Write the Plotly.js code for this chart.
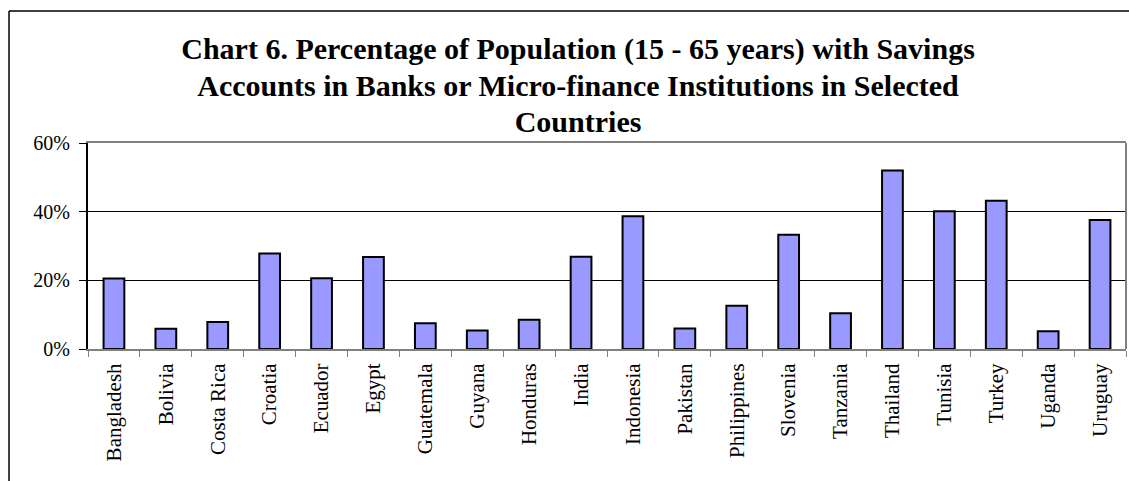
<!DOCTYPE html>
<html>
<head>
<meta charset="utf-8">
<script src="https://cdn.plot.ly/plotly-3.0.1.min.js"></script>
<style>html,body{margin:0;padding:0;background:#fff;}#chart{width:1129px;height:481px;}</style>
</head>
<body>
<div id="chart"></div>
<script>
const countries = ["Bangladesh","Bolivia","Costa Rica","Croatia","Ecuador","Egypt","Guatemala","Guyana","Honduras","India","Indonesia","Pakistan","Philippines","Slovenia","Tanzania","Thailand","Tunisia","Turkey","Uganda","Uruguay"];
const savingsShare = [0.205,0.059,0.079,0.278,0.206,0.268,0.075,0.054,0.085,0.269,0.387,0.060,0.126,0.333,0.104,0.520,0.401,0.432,0.052,0.376];
const yTickVals = [0,0.2,0.4,0.6];
const yTickText = ["0%","20%","40%","60%"];
const titleLines = [
  "Chart 6. Percentage of Population (15 - 65 years) with Savings",
  "Accounts in Banks or Micro-finance Institutions in Selected",
  "Countries"
];

const serif = "Liberation Serif, Times New Roman, serif";

const data = [{
  type: "bar",
  x: countries,
  y: savingsShare,
  marker: {color: "#9999FF", line: {color: "#000000", width: 2}},
  hoverinfo: "x+y"
}];

const layout = {
  width: 1129,
  height: 481,
  margin: {l: 88, r: 3, t: 143, b: 132, pad: 0},
  paper_bgcolor: "#ffffff",
  plot_bgcolor: "#ffffff",
  showlegend: false,
  bargap: 0.6,
  title: {
    text: titleLines.map(s => '<span style="font-size:30px">' + s + '</span>').join("<br>"),
    font: {family: serif, size: 28, color: "#000000", weight: "bold"},
    xref: "container", x: 0.512, xanchor: "center",
    yref: "container", y: 0.877, yanchor: "top"
  },
  xaxis: {
    type: "category",
    tickson: "boundaries",
    ticks: "outside", ticklen: 6, tickcolor: "#808080", tickwidth: 1,
    tickangle: -90,
    ticklabelstandoff: 4,
    tickfont: {family: serif, size: 21, color: "#000000"},
    showline: true, linecolor: "#808080", linewidth: 2, mirror: true,
    showgrid: false, zeroline: false, fixedrange: true
  },
  yaxis: {
    range: [0, 0.6],
    tickvals: yTickVals, ticktext: yTickText,
    ticks: "outside", ticklen: 7, tickcolor: "#000000", tickwidth: 1,
    ticklabelstandoff: 5,
    tickfont: {family: serif, size: 20, color: "#000000"},
    showline: true, linecolor: "#000000", linewidth: 2,
    showgrid: true, gridcolor: "#000000", gridwidth: 1,
    zeroline: false, fixedrange: true
  },
  shapes: [
    {type: "line", xref: "paper", yref: "paper", x0: 1, x1: 1, y0: 0, y1: 1, line: {color: "#808080", width: 2}},
    {type: "line", xref: "paper", yref: "paper", x0: -0.0761, x1: -0.0761, y0: 1.641, y1: -0.66, line: {color: "#000000", width: 1.5}},
    {type: "line", xref: "paper", yref: "paper", x0: -0.0761, x1: 1.01, y0: 1.641, y1: 1.641, line: {color: "#000000", width: 1.5}}
  ]
};

Plotly.newPlot("chart", data, layout, {displayModeBar: false, staticPlot: true});
</script>
</body>
</html>
